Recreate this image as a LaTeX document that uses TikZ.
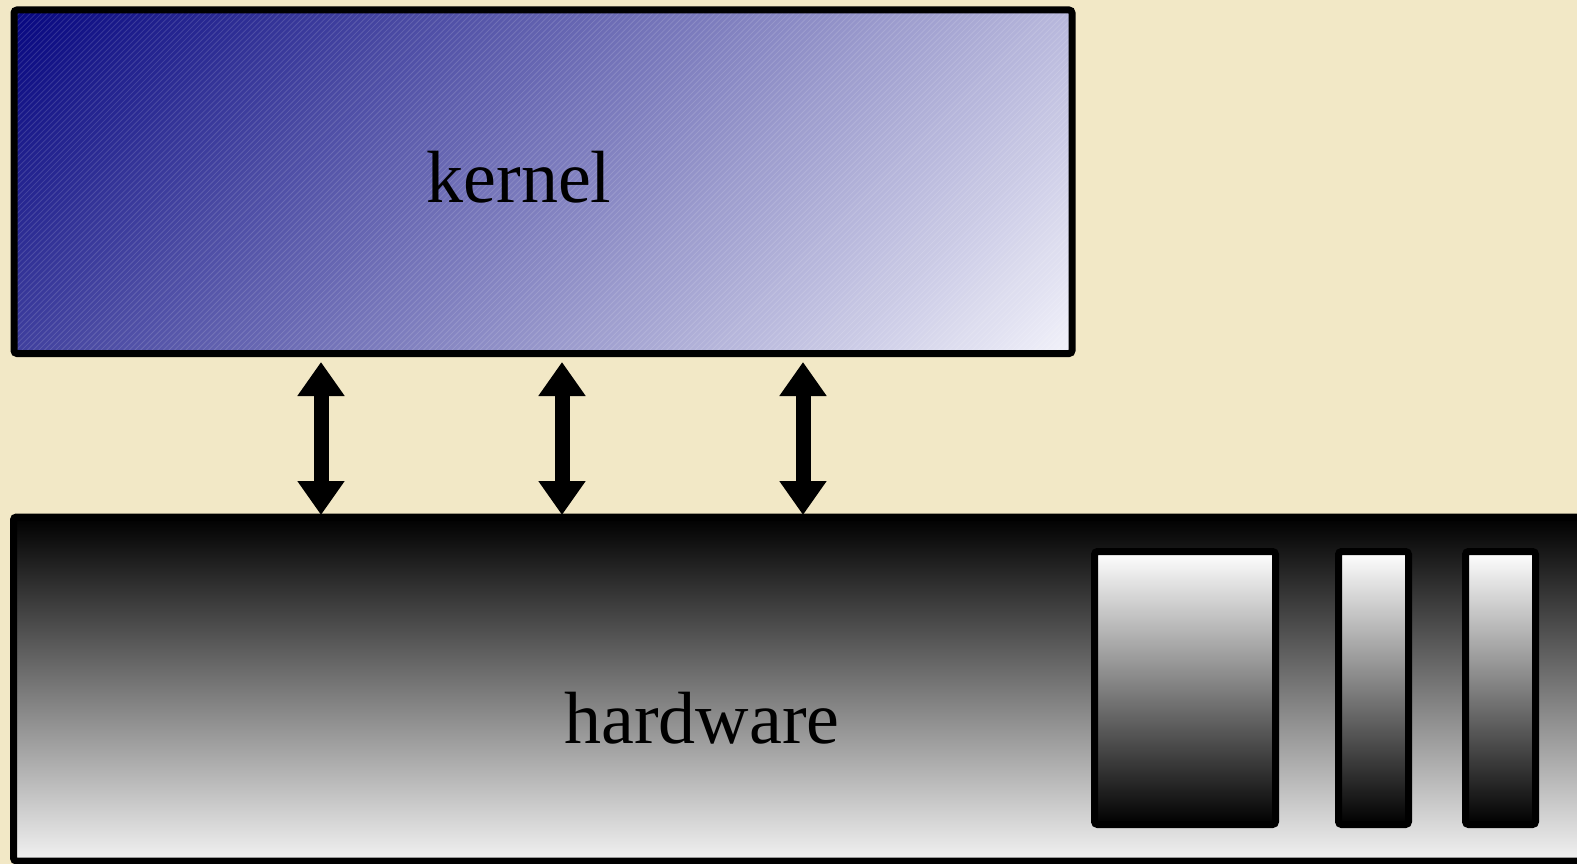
\documentclass[tikz,border=0pt]{standalone}
\usepackage{fontspec}
\setmainfont{Liberation Serif}
\usetikzlibrary{arrows.meta}
\definecolor{bg}{RGB}{242,232,198}
\definecolor{navy}{RGB}{6,6,128}
\definecolor{paleblue}{RGB}{242,242,250}
\definecolor{lightgrey}{RGB}{242,242,242}
\tikzset{
  box/.style={draw=black, line width=7pt, rounded corners=3pt, inner sep=0pt, outer sep=0pt},
  frame/.style={draw=black, line width=7pt, rounded corners=3pt},
  hatch/.style={white, opacity=0.14, line width=0.8pt},
  hwbox/.style={box, top color=black, bottom color=lightgrey},
  slot/.style={box, top color=white, bottom color=black},
  label/.style={font=\fontsize{74}{80}\selectfont, anchor=base, inner sep=0pt},
  bus/.style={line width=15pt, {Triangle[width=45pt,length=34pt]}-{Triangle[width=45pt,length=34pt]}}
}
\begin{document}
\begin{tikzpicture}[x=1pt,y=-1pt]
  \useasboundingbox (0,0) rectangle (1577,864);
  \fill[bg] (0,0) rectangle (1577,864);
  % kernel box
  \node[inner sep=0pt, outer sep=0pt, minimum width=1058pt, minimum height=343.5pt] (kernel) at (543,181.75) {};
  \begin{scope}
    \clip[rounded corners=3pt] (kernel.north west) rectangle (kernel.south east);
    \begin{scope}[shift={(kernel.north west)}, rotate=-45]
      \foreach \i in {0,4,...,988} {
        \pgfmathsetmacro\p{min(100,\i/9.9)}
        \fill[paleblue!\p!navy] (\i-0.3,-800) rectangle (\i+4.3,800);
        \draw[hatch] (\i+2,-800) -- (\i+2,800);
      }
    \end{scope}
  \end{scope}
  \draw[frame] (kernel.north west) rectangle (kernel.south east);
  % hardware box
  \node[hwbox, minimum width=1586.5pt, minimum height=344pt] (hardware) at (806.75,689) {};
  \node[slot, minimum width=181pt, minimum height=273pt] (slot1) at (1185,688) {};
  \node[slot, minimum width=70pt, minimum height=273pt] (slot2) at (1373.5,688) {};
  \node[slot, minimum width=70pt, minimum height=273pt] (slot3) at (1500.5,688) {};
  \node[label] (kt) at (519,202) {kernel};
  \node[label] (ht) at (702,743) {hardware};
  \coordinate (k1) at (321,362);
  \coordinate (k2) at (562,362);
  \coordinate (k3) at (803,362);
  \coordinate (h1) at (321,515);
  \coordinate (h2) at (562,515);
  \coordinate (h3) at (803,515);
  \draw[bus] (k1) -- (h1);
  \draw[bus] (k2) -- (h2);
  \draw[bus] (k3) -- (h3);
\end{tikzpicture}
\end{document}
